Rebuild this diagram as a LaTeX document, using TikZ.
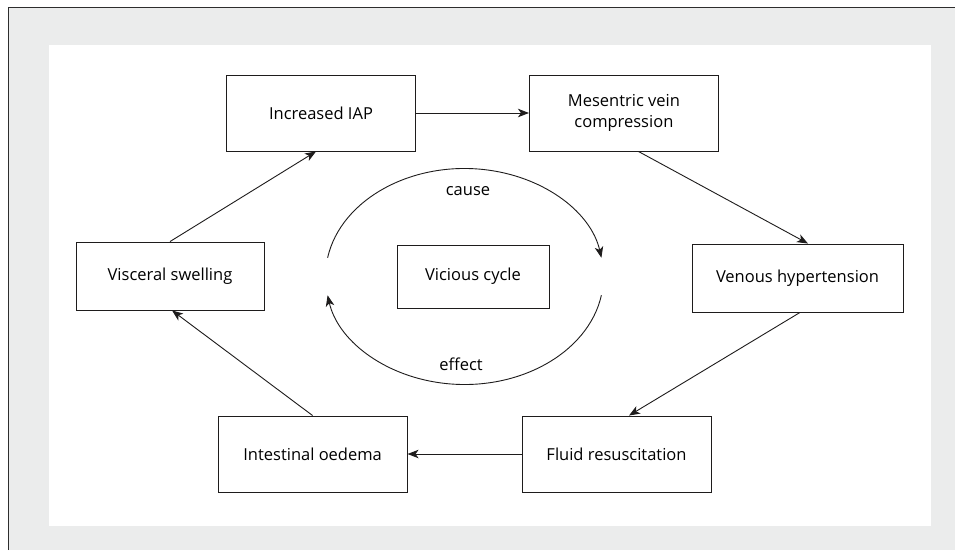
\documentclass[tikz,border=0pt]{standalone}
\usepackage{fontspec}
\setmainfont{Open Sans}
\usetikzlibrary{arrows.meta, positioning}
\definecolor{framegray}{RGB}{235,236,236}
\definecolor{framedark}{RGB}{45,45,45}
\definecolor{ink}{RGB}{30,28,28}

\begin{document}
\begin{tikzpicture}[->,>={Stealth[length=11pt,width=8.5pt,inset=3pt]}, x=1pt, y=1pt,
 line width=0.9pt, draw=ink, font=\fontsize{16.5}{21}\selectfont]
 \tikzstyle{block} = [rectangle, draw, minimum width=189pt, minimum height=76pt, align=center, inner sep=0pt]
 \tikzstyle{flat} = [minimum height=68pt]
 \useasboundingbox (0,0) rectangle (955,550);
 % grey frame, only its left and top edges show
 \fill[framegray] (8,0) rectangle (955,543);
 \draw[-, line width=0.8pt, framedark] (8,0) -- (8,543) -- (955,543);
 \fill[white] (49,24) rectangle (931,505);

   \node[block] (iap) at (321,437) {Increased IAP};
   \node[block] (mes) [right=113pt of iap] {Mesentric vein\\compression};
   \node[block, flat, minimum width=211pt] (ven) at (797.5,272) {Venous hypertension};
   \node[block] (flu) at (616.5,96) {Fluid resuscitation};
   \node[block] (int) [left=114pt of flu] {Intestinal oedema};
   \node[block, flat, minimum width=188pt] (vis) at (170,274) {Visceral swelling};
   \node[block, minimum width=152pt, minimum height=63pt] (vic) at (473,273.5) {Vicious cycle};

 % the two half rings round the middle box
 \coordinate (mid) at (464.5,273.5);
 \coordinate (cs) at ([shift={(170:139pt and 108pt)}]mid);
 \coordinate (es) at ([shift={(-10:139pt and 108pt)}]mid);
 \draw (cs) arc[start angle=170, end angle=10, x radius=139pt, y radius=108pt];
 \draw (es) arc[start angle=-10, end angle=-170, x radius=139pt, y radius=108pt];
   \node (cau) at (468,359) {cause};
   \node (eff) at (461,186) {effect};

 \path[]
	(vis.north) edge ([xshift=-5pt]iap.south)
	(iap) edge (mes)
	([xshift=14.5pt]mes.south) edge ([xshift=10.5pt]ven.north)
	([xshift=2.5pt]ven.south) edge ([xshift=12.5pt]flu.north)
	(flu) edge (int)
	(int.north) edge ([xshift=2pt]vis.south);
\end{tikzpicture}
\end{document}
